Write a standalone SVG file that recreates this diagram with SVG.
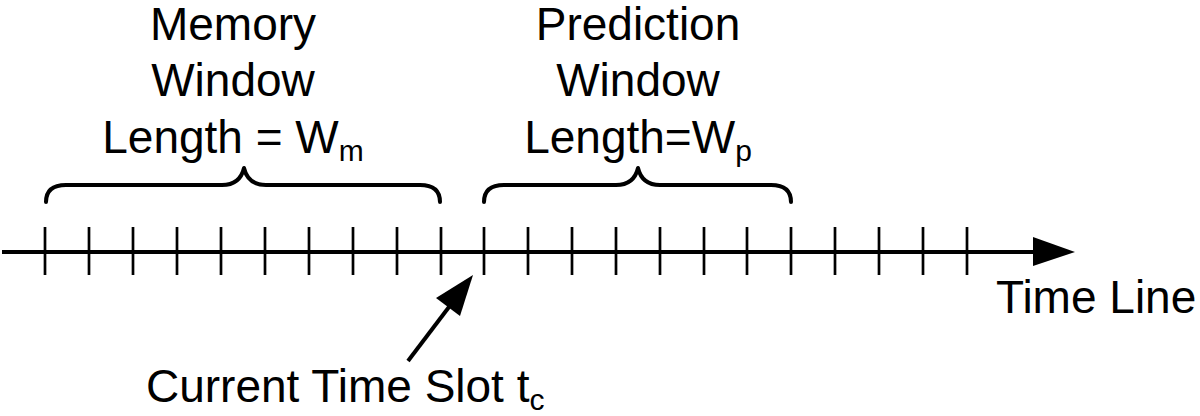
<svg xmlns="http://www.w3.org/2000/svg" width="1200" height="416" viewBox="0 0 1200 416">
<style>
text{font-family:"Liberation Sans",Arial,sans-serif;font-size:46px;fill:#000}
.c{text-anchor:middle}
.sub{font-size:30px}
.tick{stroke:#000;stroke-width:2.7}
.brace{fill:none;stroke:#000;stroke-width:4;stroke-linecap:round;stroke-linejoin:round}
</style>
<rect width="1200" height="416" fill="#fff"/>
<g id="memory-label">
<text class="c" x="233" y="40">Memory</text>
<text class="c" x="233" y="96">Window</text>
<text class="c" x="233" y="153">Length = W<tspan class="sub" dy="8">m</tspan></text>
</g>
<g id="prediction-label">
<text class="c" x="638" y="40">Prediction</text>
<text class="c" x="638" y="96">Window</text>
<text class="c" x="638" y="153">Length=W<tspan class="sub" dy="8">p</tspan></text>
</g>
<g id="memory-brace">
<path class="brace" d="M46,202 Q46,185 66,185 L222,185 Q240,185 244,168 Q248,185 266,185 L420,185 Q440,185 440,202"/>
</g>
<g id="prediction-brace">
<path class="brace" d="M484,202 Q484,185 504,185 L616,185 Q634,185 638,168 Q642,185 660,185 L771,185 Q791,185 791,202"/>
</g>
<g id="timeline">
<line x1="2" y1="252" x2="1040" y2="252" stroke="#000" stroke-width="4"/>
<polygon points="1033,237 1075,252 1033,266" fill="#000"/>
<g class="tick">
<line x1="45" y1="227" x2="45" y2="275"/>
<line x1="89" y1="227" x2="89" y2="275"/>
<line x1="133" y1="227" x2="133" y2="275"/>
<line x1="177" y1="227" x2="177" y2="275"/>
<line x1="221" y1="227" x2="221" y2="275"/>
<line x1="265" y1="227" x2="265" y2="275"/>
<line x1="309" y1="227" x2="309" y2="275"/>
<line x1="353" y1="227" x2="353" y2="275"/>
<line x1="397" y1="227" x2="397" y2="275"/>
<line x1="441" y1="227" x2="441" y2="275"/>
<line x1="484" y1="227" x2="484" y2="275"/>
<line x1="528" y1="227" x2="528" y2="275"/>
<line x1="572" y1="227" x2="572" y2="275"/>
<line x1="616" y1="227" x2="616" y2="275"/>
<line x1="660" y1="227" x2="660" y2="275"/>
<line x1="704" y1="227" x2="704" y2="275"/>
<line x1="747" y1="227" x2="747" y2="275"/>
<line x1="791" y1="227" x2="791" y2="275"/>
<line x1="835" y1="227" x2="835" y2="275"/>
<line x1="879" y1="227" x2="879" y2="275"/>
<line x1="923" y1="227" x2="923" y2="275"/>
<line x1="967" y1="227" x2="967" y2="275"/>
</g>
<text x="996" y="313">Time Line</text>
</g>
<g id="current-slot">
<line x1="408" y1="361" x2="452" y2="303" stroke="#000" stroke-width="4"/>
<polygon points="473,275 460,316 436,298" fill="#000"/>
<text x="146" y="402">Current Time Slot t<tspan class="sub" dy="8">c</tspan></text>
</g>
</svg>
